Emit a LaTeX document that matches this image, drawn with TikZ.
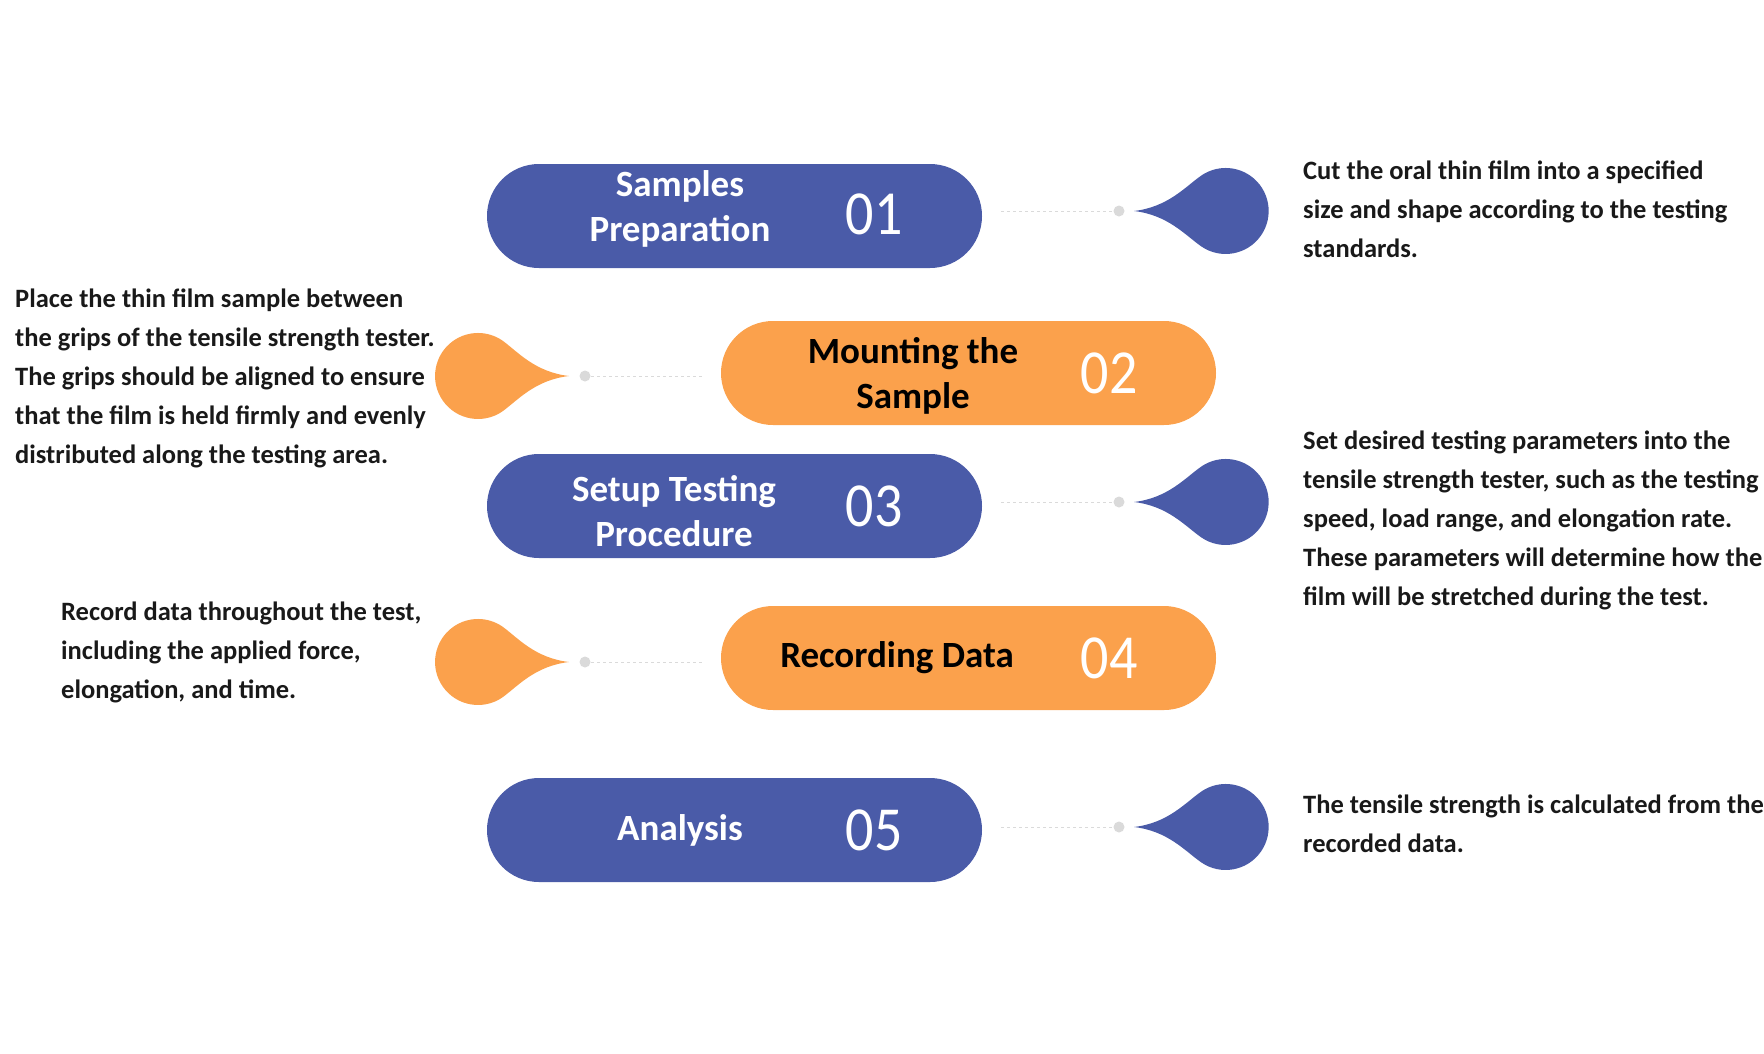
\documentclass[tikz,border=0pt]{standalone}
\usepackage{fontspec}
\setmainfont{Carlito}
\usetikzlibrary{calc}
\definecolor{bl}{HTML}{4A5BA8}
\definecolor{orr}{HTML}{FBA14C}
\definecolor{dotg}{HTML}{DADADA}
\begin{document}
\begin{tikzpicture}[x=1pt,y=-1pt,
  pill/.style={rounded corners=52pt,minimum width=495pt,minimum height=104pt,inner sep=0pt},
  ttl/.style={font=\fontsize{37}{45}\selectfont\bfseries,align=center},
  num/.style={font=\fontsize{56}{56}\selectfont,yscale=1.12},
  desc/.style={font=\fontsize{26.5}{39}\selectfont\bfseries,align=left,anchor=north west,inner sep=0pt,text=black!90}]
\useasboundingbox (0,0) rectangle (1764,1053);
% pills
\node[pill,fill=bl] (p1) at (734.5,216) {};
\node[pill,fill=orr] (p2) at (968.5,373) {};
\node[pill,fill=bl] (p3) at (734.5,506) {};
\node[pill,fill=orr] (p4) at (968.5,658) {};
\node[pill,fill=bl] (p5) at (734.5,830) {};
\node[ttl,text=white] (t1) at (680,209) {Samples\\Preparation};
\node[num,text=white] (n1) at (874,214) {01};
\node[ttl,text=black] (t2) at (913,376) {Mounting the\\Sample};
\node[num,text=white] (n2) at (1109,373) {02};
\node[ttl,text=white] (t3) at (674,511) {Setup Testing\\Procedure};
\node[num,text=white] (n3) at (874,506) {03};
\node[ttl,text=black] (t4) at (897,658) {Recording Data};
\node[num,text=white] (n4) at (1109,658) {04};
\node[ttl,text=white] (t5) at (680,830) {Analysis};
\node[num,text=white] (n5) at (874,830) {05};
% right drops
\foreach \yy/\c in {211/bl,502/bl,827/bl}{
  \fill[dotg] (1119,\yy) circle (5.5);
  \draw[dotg,dashed,line width=1pt] (1001,\yy) -- (1113,\yy);
  \fill[\c] (1134,\yy) .. controls (1168,\yy+4) and (1185,\yy+24) .. (1201,\yy+35.2)
     arc (125:-125:43) .. controls (1185,\yy-24) and (1168,\yy-4) .. (1134,\yy) -- cycle;
}
\foreach \yy/\c in {376/orr,662/orr}{
  \fill[dotg] (585,\yy) circle (5.5);
  \draw[dotg,dashed,line width=1pt] (591,\yy) -- (703,\yy);
  \fill[\c] (569,\yy) .. controls (535,\yy+4) and (518,\yy+24) .. (502.7,\yy+35.2)
     arc (55:305:43) .. controls (518,\yy-24) and (535,\yy-4) .. (569,\yy) -- cycle;
}
\node[desc] (d1) at (1303,161) {Cut the oral thin film into a specified\\size and shape according to the testing\\standards.};
\node[desc] (d2) at (15,289) {Place the thin film sample between\\the grips of the tensile strength tester.\\The grips should be aligned to ensure\\that the film is held firmly and evenly\\distributed along the testing area.};
\node[desc] (d3) at (1303,431) {Set desired testing parameters into the\\tensile strength tester, such as the testing\\speed, load range, and elongation rate.\\These parameters will determine how the\\film will be stretched during the test.};
\node[desc] (d4) at (61,602) {Record data throughout the test,\\including the applied force,\\elongation, and time.};
\node[desc] (d5) at (1303,795) {The tensile strength is calculated from the\\recorded data.};
\end{tikzpicture}
\end{document}
